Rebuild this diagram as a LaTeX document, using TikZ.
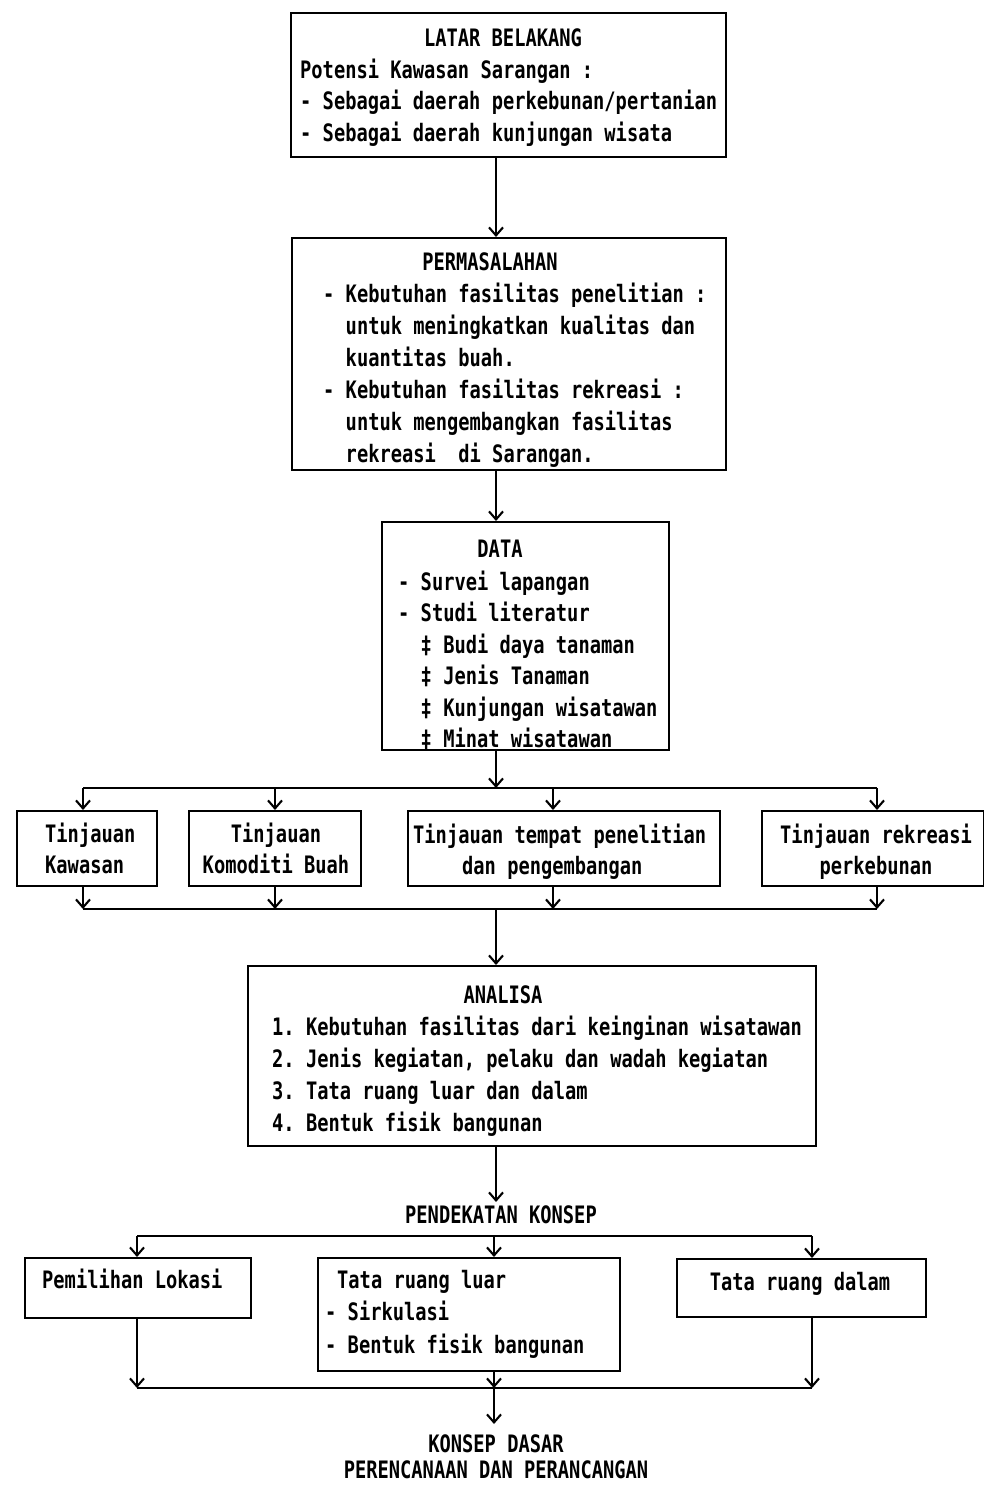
\documentclass[tikz,border=0pt]{standalone}
\usepackage{fontspec}
\usetikzlibrary{arrows.meta,calc}
% narrow typewriter-like lettering
\newfontfamily\dotmono[FakeStretch=0.78]{DejaVu Sans Mono}

\begin{document}
\frenchspacing
\begin{tikzpicture}[x=1pt,y=-1pt,
  box/.style={draw, line width=2.4pt, inner sep=0pt, anchor=north west},
  txt/.style={font=\dotmono\bfseries\fontsize{24}{31.7}\selectfont, inner sep=0pt, align=left, anchor=base west},
  ttl/.style={txt, align=center, anchor=base},
  ln/.style={line width=2.1pt},
  arr/.style={line width=2.1pt, -{Straight Barb[length=8pt,width=14pt,line width=2.1pt]}}]
\useasboundingbox (0,0) rectangle (984,1485);

% ---------- boxes ----------
\node[box, minimum width=435, minimum height=144] (lb) at (290,12) {};
\node[box, minimum width=434, minimum height=232] (pm) at (291,237) {};
\node[box, minimum width=287, minimum height=228] (dt) at (381,521) {};
\node[box, minimum width=140, minimum height=75] (t1) at (16,810) {};
\node[box, minimum width=172, minimum height=75] (t2) at (188,810) {};
\node[box, minimum width=312, minimum height=75] (t3) at (407,810) {};
\node[box, minimum width=222, minimum height=75] (t4) at (761,810) {};
\node[box, minimum width=568, minimum height=180] (an) at (247,965) {};
\node[box, minimum width=226, minimum height=60] (p1) at (24,1257) {};
\node[box, minimum width=302, minimum height=113] (p2) at (317,1257) {};
\node[box, minimum width=249, minimum height=58] (p3) at (676,1258) {};

% ---------- texts (multi-line nodes sit on the baseline of their last line) ----------
\node[ttl] (lbT) at (503,47) {LATAR BELAKANG};
\node[txt] (lbB) at (300,141.4) {Potensi Kawasan Sarangan :\\- Sebagai daerah perkebunan/pertanian\\- Sebagai daerah kunjungan wisata};

\node[ttl] (pmT) at (490,270) {PERMASALAHAN};
\node[txt, font=\dotmono\bfseries\fontsize{24}{32}\selectfont] (pmB) at (323,462)
  {- Kebutuhan fasilitas penelitian :\\\hphantom{-~}untuk meningkatkan kualitas dan\\\hphantom{-~}kuantitas buah.\\- Kebutuhan fasilitas rekreasi :\\\hphantom{-~}untuk mengembangkan fasilitas\\\hphantom{-~}rekreasi~~di Sarangan.};

\node[ttl] (dtT) at (500,557) {DATA};
\node[txt, font=\dotmono\bfseries\fontsize{24}{31.5}\selectfont] (dtB) at (398,747.5)
  {- Survei lapangan\\- Studi literatur\\\hphantom{-~}‡ Budi daya tanaman\\\hphantom{-~}‡ Jenis Tanaman\\\hphantom{-~}‡ Kunjungan wisatawan\\\hphantom{-~}‡ Minat wisatawan};

\node[txt] (t1T) at (45,873.7) {Tinjauan\\Kawasan};
\node[ttl] (t2T) at (276,873.7) {Tinjauan\\Komoditi Buah};
\node[txt] (t3T) at (413,874.7) {Tinjauan tempat penelitian\\\hspace*{49pt}dan pengembangan};
\node[ttl] (t4T) at (876,874.7) {Tinjauan rekreasi\\perkebunan};

\node[ttl] (anT) at (503,1003) {ANALISA};
\node[txt, font=\dotmono\bfseries\fontsize{24}{32}\selectfont] (anB) at (272,1131)
  {1. Kebutuhan fasilitas dari keinginan wisatawan\\2. Jenis kegiatan, pelaku dan wadah kegiatan\\3. Tata ruang luar dan dalam\\4. Bentuk fisik bangunan};

\node[ttl] (pk) at (501,1223) {PENDEKATAN KONSEP};

\node[txt] (p1T) at (42,1288) {Pemilihan Lokasi};
\node[txt, font=\dotmono\bfseries\fontsize{24}{32.5}\selectfont] (p2T) at (325,1353) {\hspace*{12pt}Tata ruang luar\\- Sirkulasi\\- Bentuk fisik bangunan};
\node[ttl] (p3T) at (800,1290) {Tata ruang dalam};

\node[ttl, font=\dotmono\bfseries\fontsize{24}{26}\selectfont] (kd) at (496,1478) {KONSEP DASAR\\PERENCANAAN DAN PERANCANGAN};

% ---------- connector guides ----------
\coordinate (sp) at (496,0);
\coordinate (busA) at (0,788);
\coordinate (busB) at (0,909);
\coordinate (busC) at (0,1236);
\coordinate (busD) at (0,1388);
\coordinate (c1) at (83,0);
\coordinate (c2) at (275,0);
\coordinate (c3) at (553,0);
\coordinate (c4) at (877,0);
\coordinate (d1) at (137,0);
\coordinate (d2) at (494,0);
\coordinate (d3) at (812,0);

% ---------- connectors ----------
\draw[arr] (lb.south -| sp) -- (pm.north -| sp);
\draw[arr] (pm.south -| sp) -- (dt.north -| sp);
\draw[arr] (dt.south -| sp) -- (busA -| sp);
\draw[ln] (busA -| c1) -- (busA -| c4);
\foreach \c/\n in {c1/t1,c2/t2,c3/t3,c4/t4}{
  \draw[arr] (busA -| \c) -- (\n.north -| \c);
  \draw[arr] (\n.south -| \c) -- (busB -| \c);
}
\draw[ln] (busB -| c1) -- (busB -| c4);
\draw[arr] (busB -| sp) -- (an.north -| sp);
\draw[arr, shorten >=3pt] (an.south -| sp) -- (pk.north -| sp);
\draw[ln] (busC -| d1) -- (busC -| d3);
\foreach \c/\n in {d1/p1,d2/p2,d3/p3}{
  \draw[arr] (busC -| \c) -- (\n.north -| \c);
  \draw[arr] (\n.south -| \c) -- (busD -| \c);
}
\draw[ln] (busD -| d1) -- (busD -| d3);
\draw[arr, shorten >=10pt] (busD -| d2) -- (kd.north -| d2);
\end{tikzpicture}
\end{document}
